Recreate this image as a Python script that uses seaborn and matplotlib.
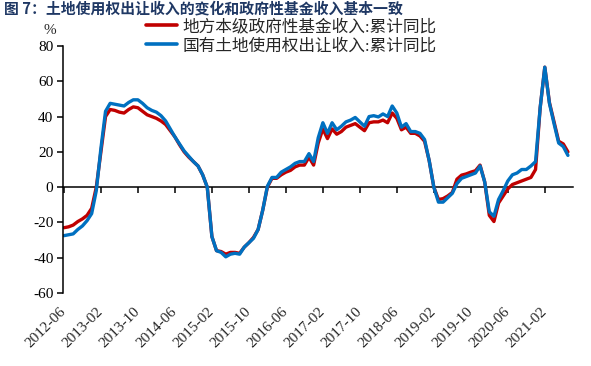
import numpy as np
import pandas as pd
import matplotlib
matplotlib.use("Agg")
import matplotlib.pyplot as plt
import seaborn as sns
from matplotlib.lines import Line2D

# ---- data (monthly, 2012-06 .. 2021-07) ----
gov_fund = [-23, -22.5, -21.5, -19.5, -18, -16, -12, 0, 20, 40,
            44, 43.5, 42.5, 42, 44, 45.5, 45, 43, 41, 40,
            39, 37.5, 35.5, 32, 28.5, 24, 20, 17, 14.5, 12,
            7, 0, -28, -36, -36.5, -38, -37, -37, -37.5, -34,
            -31.5, -28.5, -24, -13, 0, 5, 5, 7, 8.5, 9.5,
            11.5, 12.5, 12.5, 17, 12.5, 25, 33, 27.5, 33, 30,
            31.5, 34, 35, 36, 34, 32, 36.5, 37, 37, 38,
            36.5, 42, 39, 32.5, 34, 30.5, 30.5, 29, 26, 15,
            0, -7, -6.5, -5, -3, 4.5, 6.8, 7.5, 8.5, 9.3,
            12.5, 3, -16, -19.5, -9, -5, -1, 1.5, 2.5, 3.5,
            4.5, 5.5, 10, 45, 68, 48, 37, 26, 24.5, 20]
land_sales = [-27.5, -27, -26.5, -24, -22, -19, -15, -2, 22, 43,
              47.5, 47, 46.5, 46, 48, 49.5, 49.5, 47.5, 45, 43.5,
              42.5, 40.5, 37.5, 33, 28.5, 24.5, 20.5, 17.5, 14.5, 12,
              7, 0, -28, -36, -37, -39.5, -38, -37.5, -38, -34,
              -31.5, -29, -24, -13, 0.5, 5.5, 5.5, 8.5, 10, 11.5,
              13.5, 14.5, 14.5, 19, 14.5, 28, 36.5, 30.5, 36.5, 32.5,
              34.5, 37, 38, 39.5, 37, 34.5, 40, 40.5, 39.8, 41.5,
              40, 46, 42, 34, 36, 31.5, 31.5, 30.5, 27, 15,
              0, -8.5, -8.5, -6, -3.5, 2, 5, 6, 7, 8,
              12, 3, -14, -16.5, -7, -2, 3.5, 7, 8, 10,
              10, 12, 14.5, 45, 68, 47.5, 36, 25, 23, 18]
tick_labels = ["2012-06", "2013-02", "2013-10", "2014-06", "2015-02", "2015-10",
               "2016-06", "2017-02", "2017-10", "2018-06", "2019-02", "2019-10",
               "2020-06", "2021-02"]
series_names = ["地方本级政府性基金收入:累计同比", "国有土地使用权出让收入:累计同比"]
title = "图 7：土地使用权出让收入的变化和政府性基金收入基本一致"

sns.set_style("ticks")
SERIF = ["Liberation Serif", "Noto Sans CJK SC"]
plt.rcParams["font.family"] = SERIF
plt.rcParams["axes.unicode_minus"] = False

n = len(gov_fund)
df = pd.DataFrame({
    "month": np.concatenate([np.arange(n), np.arange(n)]),
    "value": gov_fund + land_sales,
    "series": [series_names[0]] * n + [series_names[1]] * n,
})

fig = plt.figure(figsize=(5.91, 3.66), dpi=100)
ax = fig.add_axes([63 / 591, 1 - 293 / 366, (573 - 63) / 591, (293 - 46) / 366])

colors = {series_names[0]: "#C00000", series_names[1]: "#0070C0"}
sns.lineplot(data=df, x="month", y="value", hue="series", palette=colors,
             linewidth=2.4, ax=ax, legend=False)

ax.set_xlim(-0.2, 110.1)
ax.set_ylim(-60, 80)
ax.set_yticks(np.arange(-60, 81, 20))
ax.tick_params(axis="y", direction="out", length=4, width=1.1, labelsize=11, pad=3,
               colors="black")
ax.set_xlabel("")
ax.set_ylabel("")
for s in ["top", "right", "bottom"]:
    ax.spines[s].set_visible(False)
ax.spines["left"].set_linewidth(1.1)
ax.spines["left"].set_color("black")

tick_pos = np.arange(0, n, 8)[:len(tick_labels)]
ax.set_xticks(tick_pos)
ax.set_xticklabels(tick_labels, rotation=45, ha="right", va="center",
                   rotation_mode="anchor", fontsize=11)
ax.tick_params(axis="x", length=0, pad=12)

# zero line with tick marks
sec = ax.secondary_xaxis(60 / 140)
sec.set_xticks(tick_pos)
sec.set_xticklabels([])
sec.tick_params(axis="x", direction="out", length=4, width=1.1, colors="black")
sec.spines["bottom"].set_linewidth(1.1)
sec.spines["bottom"].set_color("black")

for lbl in ax.get_yticklabels():
    lbl.set_family(SERIF)

fig.text(50 / 591, 1 - 31 / 366, "%", ha="center", va="center", fontsize=11,
         family=SERIF)
fig.text(4 / 591, 1 - 8.5 / 366, title, ha="left", va="center", fontsize=10.7,
         fontweight="bold", color="#1F3864", family=["Noto Sans CJK SC"])

handles = [Line2D([], [], color=colors[s], linewidth=2.6) for s in series_names]
leg = fig.legend(handles, series_names, loc="upper left",
                 bbox_to_anchor=(146 / 591, 1 - 19 / 366), frameon=False,
                 borderpad=0, borderaxespad=0, handlelength=1.85,
                 handletextpad=0.35, labelspacing=0.2,
                 prop={"family": SERIF, "size": 12})

fig.savefig("out.png", dpi=100)
